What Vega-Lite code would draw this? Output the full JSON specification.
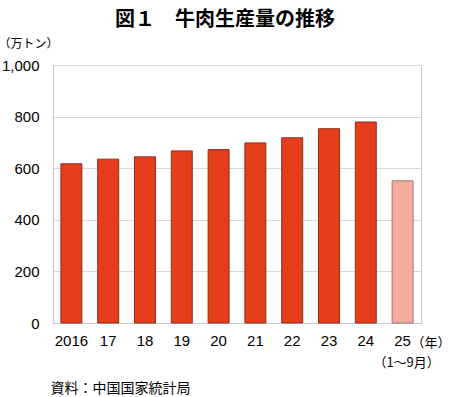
{
  "$schema": "https://vega.github.io/schema/vega-lite/v6.json",
  "width": 368,
  "height": 258,
  "autosize": {"type": "none"},
  "padding": {"left": 53, "top": 65, "right": 29, "bottom": 74},
  "background": "white",
  "title": {
    "text": "図１　牛肉生産量の推移",
    "font": "Noto Sans CJK JP",
    "fontSize": 20,
    "fontWeight": "bold",
    "color": "#000000",
    "anchor": "middle",
    "dx": -12,
    "offset": 7
  },
  "config": {
    "view": {"stroke": "#c8c8c8", "strokeWidth": 1},
    "axis": {"labelColor": "#000000", "titleColor": "#000000"}
  },
  "data": {
    "values": [
      {"year": "2016", "value": 617, "kind": "通年"},
      {"year": "17", "value": 635, "kind": "通年"},
      {"year": "18", "value": 644, "kind": "通年"},
      {"year": "19", "value": 667, "kind": "通年"},
      {"year": "20", "value": 672, "kind": "通年"},
      {"year": "21", "value": 698, "kind": "通年"},
      {"year": "22", "value": 718, "kind": "通年"},
      {"year": "23", "value": 753, "kind": "通年"},
      {"year": "24", "value": 779, "kind": "通年"},
      {"year": "25", "value": 551, "kind": "1～9月"}
    ]
  },
  "encoding": {
    "x": {
      "field": "year",
      "type": "nominal",
      "sort": null,
      "scale": {"paddingInner": 0.43, "paddingOuter": 0.215},
      "axis": {
        "labelAngle": 0,
        "labelFont": "Liberation Sans",
        "labelFontSize": 15,
        "labelPadding": 10,
        "ticks": false,
        "domainColor": "#c8c8c8",
        "title": "資料：中国国家統計局",
        "titleFont": "Noto Sans CJK JP",
        "titleFontSize": 14,
        "titleFontWeight": "normal",
        "titleAnchor": "start",
        "titleAlign": "left",
        "titleBaseline": "middle",
        "titleX": -3,
        "titleY": 65
      }
    }
  },
  "layer": [
    {
      "mark": {"type": "bar", "strokeWidth": 1},
      "encoding": {
        "y": {
          "field": "value",
          "type": "quantitative",
          "scale": {"domain": [0, 1000]},
          "axis": {
            "values": [0, 200, 400, 600, 800, 1000],
            "format": ",.0f",
            "labelFont": "Liberation Sans",
            "labelFontSize": 15,
            "labelPadding": 14,
            "ticks": false,
            "domainColor": "#c8c8c8",
            "gridColor": "#d9d9d9",
            "title": "（万トン）",
            "titleFont": "Noto Sans CJK JP",
            "titleFontSize": 12,
            "titleFontWeight": "normal",
            "titleAngle": 0,
            "titleAlign": "left",
            "titleBaseline": "middle",
            "titleX": -55,
            "titleY": -22
          }
        },
        "fill": {
          "field": "kind",
          "type": "nominal",
          "scale": {"domain": ["通年", "1～9月"], "range": ["#e63d1c", "#f4ad9c"]},
          "legend": null
        },
        "stroke": {
          "field": "kind",
          "type": "nominal",
          "scale": {"domain": ["通年", "1～9月"], "range": ["#8a2f1c", "#a07a70"]},
          "legend": null
        }
      }
    },
    {
      "data": {"values": [{"year": "25", "note": "（年）"}]},
      "mark": {"type": "text", "font": "Noto Sans CJK JP", "fontSize": 13, "align": "left", "baseline": "middle", "dx": 9, "dy": 20, "color": "#000000"},
      "encoding": {
        "y": {"datum": 0, "type": "quantitative"},
        "text": {"field": "note"}
      }
    },
    {
      "data": {"values": [{"year": "25", "note": "（1～9月）"}]},
      "mark": {"type": "text", "font": "Noto Sans CJK JP", "fontSize": 13, "align": "center", "baseline": "middle", "dx": 4, "dy": 40, "color": "#000000"},
      "encoding": {
        "y": {"datum": 0, "type": "quantitative"},
        "text": {"field": "note"}
      }
    }
  ]
}
